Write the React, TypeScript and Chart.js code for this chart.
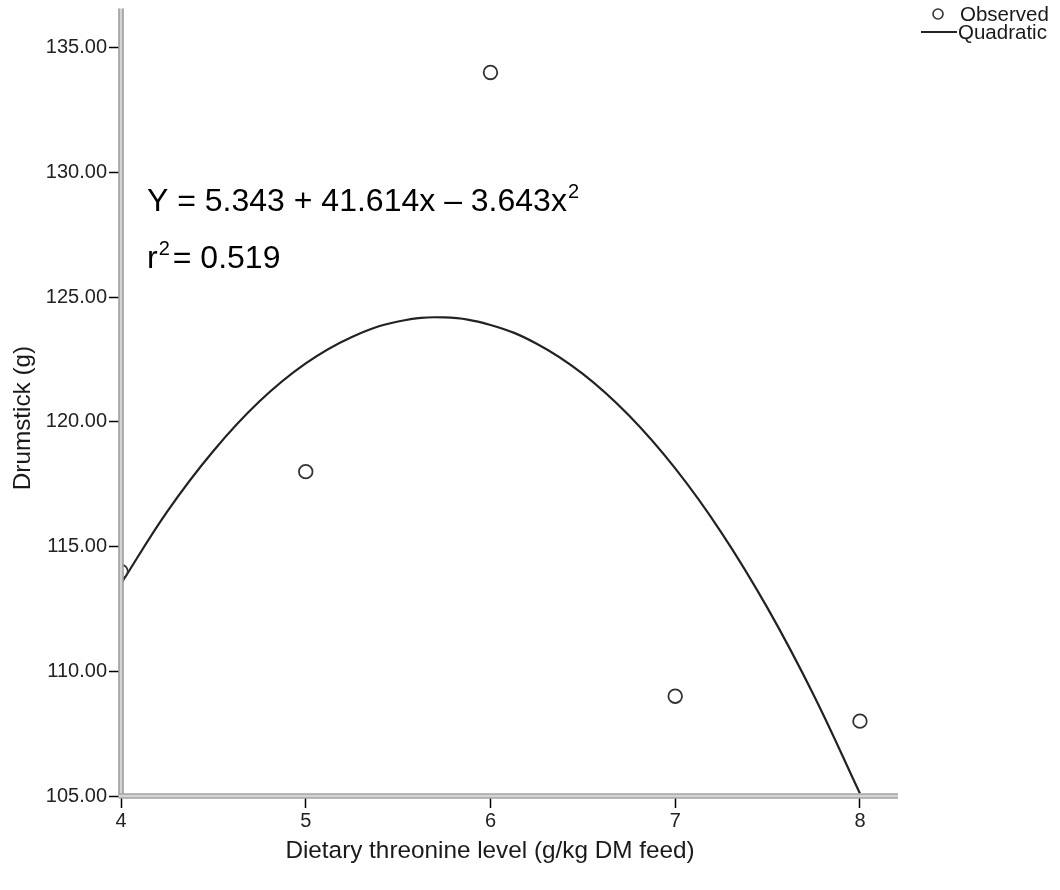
import React, { useEffect, useRef } from "react";
import { Chart, registerables } from "chart.js";

Chart.register(...registerables);

// Observed data
const observedX = [4, 5, 6, 7, 8];
const observedY = [114, 118, 134, 109, 108];

// Quadratic fit curve
const curveX = [4, 4.25, 4.5, 4.75, 5, 5.25, 5.5, 5.75, 6, 6.25, 6.5, 6.75, 7, 7.25, 7.5, 7.75, 8];
const curveY = [113.51, 116.4, 118.83, 120.82, 122.34, 123.4, 124.02, 124.18, 123.88, 123.13, 121.92, 120.25, 118.13, 115.56, 112.53, 109.04, 105.1];

const xTicks = [4, 5, 6, 7, 8];
const yTicks = [105, 110, 115, 120, 125, 130, 135];

const xTitle = "Dietary threonine level (g/kg DM feed)";
const yTitle = "Drumstick (g)";
const legendLabels = ["Observed", "Quadratic"];
const eqMain = "Y = 5.343 + 41.614x \u2013 3.643x";
const eqR = "r";
const eqRRest = "= 0.519";

const FONT = "'Liberation Sans', Arial, sans-serif";

const decorPlugin = {
  id: "decor",
  afterDatasetsDraw(chart: any) {
    const ctx = chart.ctx;
    const a = chart.chartArea;
    ctx.save();
    const drawDouble = (x1: number, y1: number, x2: number, y2: number, vertical: boolean) => {
      ctx.lineCap = "butt";
      ctx.strokeStyle = "#d4d4d4";
      ctx.lineWidth = 5;
      ctx.beginPath();
      ctx.moveTo(x1, y1);
      ctx.lineTo(x2, y2);
      ctx.stroke();
      ctx.strokeStyle = "#8c8c8c";
      ctx.lineWidth = 1.2;
      for (const off of [-2, 2]) {
        ctx.beginPath();
        if (vertical) {
          ctx.moveTo(x1 + off, y1);
          ctx.lineTo(x2 + off, y2);
        } else {
          ctx.moveTo(x1, y1 + off);
          ctx.lineTo(x2, y2 + off);
        }
        ctx.stroke();
      }
    };
    drawDouble(a.left, a.top, a.left, a.bottom + 2, true);
    drawDouble(a.left - 2, a.bottom, a.right, a.bottom, false);
    ctx.restore();
  },
  afterDraw(chart: any) {
    const ctx = chart.ctx;
    ctx.save();
    ctx.fillStyle = "#000";
    ctx.textBaseline = "alphabetic";
    ctx.textAlign = "left";
    const ex = 147;
    ctx.font = `32px ${FONT}`;
    ctx.fillText(eqMain, ex, 211);
    const w1 = ctx.measureText(eqMain).width;
    ctx.font = `20px ${FONT}`;
    ctx.fillText("2", ex + w1 + 1, 198);
    ctx.font = `32px ${FONT}`;
    ctx.fillText(eqR, ex, 268);
    const wr = ctx.measureText(eqR).width;
    ctx.font = `20px ${FONT}`;
    ctx.fillText("2", ex + wr + 1, 255);
    const w2 = ctx.measureText("2").width;
    ctx.font = `32px ${FONT}`;
    ctx.fillText(eqRRest, ex + wr + w2 + 4, 268);

    // axis titles
    ctx.font = `24.3px ${FONT}`;
    ctx.fillStyle = "#1a1a1a";
    ctx.textAlign = "center";
    ctx.textBaseline = "middle";
    ctx.fillText(xTitle, 490, 851);
    ctx.save();
    ctx.translate(23, 418);
    ctx.rotate(-Math.PI / 2);
    ctx.fillText(yTitle, 0, 0);
    ctx.restore();

    // legend
    ctx.font = `20.5px ${FONT}`;
    ctx.textAlign = "left";
    ctx.textBaseline = "middle";
    ctx.strokeStyle = "#333";
    ctx.lineWidth = 1.6;
    ctx.beginPath();
    ctx.arc(938, 14, 5, 0, Math.PI * 2);
    ctx.stroke();
    ctx.fillText(legendLabels[0], 960, 15);
    ctx.strokeStyle = "#222";
    ctx.lineWidth = 2.2;
    ctx.beginPath();
    ctx.moveTo(921, 32);
    ctx.lineTo(957, 32);
    ctx.stroke();
    ctx.fillText(legendLabels[1], 958, 33);
    ctx.restore();
  },
};

export default function App() {
  const ref = useRef<HTMLCanvasElement | null>(null);
  useEffect(() => {
    if (!ref.current) return;
    const chart = new Chart(ref.current, {
      type: "line",
      data: {
        datasets: [
          {
            label: legendLabels[0],
            data: observedX.map((x, i) => ({ x, y: observedY[i] })),
            showLine: false,
            pointRadius: 6.8,
            pointBorderWidth: 1.8,
            pointBorderColor: "#333",
            pointBackgroundColor: "rgba(255,255,255,0)",
            order: 1,
          },
          {
            label: legendLabels[1],
            data: curveX.map((x, i) => ({ x, y: curveY[i] })),
            borderColor: "#222",
            borderWidth: 2.2,
            pointRadius: 0,
            tension: 0.4,
            fill: false,
            order: 2,
          },
        ],
      },
      options: {
        animation: false,
        responsive: false,
        maintainAspectRatio: false,
        layout: { padding: { left: 0, right: 162, top: 8, bottom: 0 } },
        plugins: { legend: { display: false }, tooltip: { enabled: false } },
        scales: {
          x: {
            type: "linear",
            min: 4,
            max: 8.206,
            afterBuildTicks: (s: any) => {
              s.ticks = xTicks.map((v) => ({ value: v }));
            },
            afterFit: (s: any) => {
              s.height = 94;
              s.paddingLeft = 0;
              s.paddingRight = 0;
            },
            border: { display: false },
            grid: {
              drawOnChartArea: false,
              drawTicks: true,
              tickLength: 12,
              tickColor: "#000",
              tickWidth: 1.5,
            },
            ticks: {
              color: "#222",
              font: { family: FONT, size: 20 },
              padding: 1,
              maxRotation: 0,
              callback: (v: any) => String(v),
            },
          },
          y: {
            type: "linear",
            min: 105,
            max: 136.56,
            afterBuildTicks: (s: any) => {
              s.ticks = yTicks.map((v) => ({ value: v }));
            },
            afterFit: (s: any) => {
              s.width = 121;
              s.paddingTop = 0;
              s.paddingBottom = 0;
            },
            border: { display: false },
            grid: {
              drawOnChartArea: false,
              drawTicks: true,
              tickLength: 12,
              tickColor: "#000",
              tickWidth: 1.5,
            },
            ticks: {
              color: "#222",
              font: { family: FONT, size: 20 },
              padding: 2,
              callback: (v: any) => Number(v).toFixed(2),
            },
          },
        },
      },
      plugins: [decorPlugin],
    });
    return () => chart.destroy();
  }, []);
  return (
    <div style={{ position: "absolute", left: 0, top: 0, width: 1060, height: 890, background: "#fff" }}>
      <canvas ref={ref} width={1060} height={890} style={{ display: "block" }} />
    </div>
  );
}
